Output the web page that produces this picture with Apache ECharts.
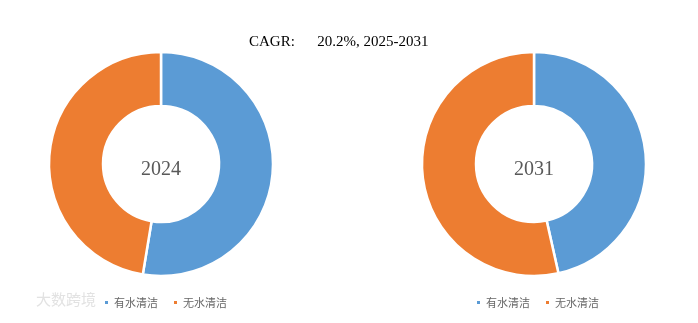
<!DOCTYPE html>
<html><head><meta charset="utf-8">
<script src="https://cdn.jsdelivr.net/npm/echarts@6/dist/echarts.min.js"></script>
<style>html,body{margin:0;padding:0;background:#fff}#c{width:698px;height:323px}</style>
</head><body><div id="c"></div>
<script>
const categories = ['有水清洁', '无水清洁'];
const years = ['2024', '2031'];
const share2024 = [52.6, 47.4];
const share2031 = [46.5, 53.5];
const titleText = 'CAGR:      20.2%, 2025-2031';
const watermark = '大数跨境';

const colors = ['#5B9BD5', '#ED7D31'];
const chart = echarts.init(document.getElementById('c'), null, {renderer: 'canvas'});

function pie(values, cx) {
  return {
    type: 'pie',
    center: [cx, 164],
    radius: [58, 112],
    startAngle: 90,
    clockwise: true,
    silent: true,
    label: {show: false},
    labelLine: {show: false},
    emphasis: {disabled: true},
    itemStyle: {borderColor: '#fff', borderWidth: 2.5},
    data: categories.map((n, i) => ({name: n, value: values[i], itemStyle: {color: colors[i]}}))
  };
}

const legendCommon = {
  orient: 'horizontal', icon: 'rect', itemWidth: 5, itemHeight: 5, itemGap: 14,
  textStyle: {fontFamily: 'Noto Sans CJK SC', fontSize: 11, color: '#666666'},
  selectedMode: false, data: categories
};

const yearStyle = {fontFamily: 'Liberation Serif', fontSize: 20, fontWeight: 'normal', color: '#595959'};

chart.setOption({
  animation: false,
  color: colors,
  title: [
    {text: titleText, left: 244, top: 30,
     textStyle: {fontFamily: 'Liberation Serif', fontSize: 15, fontWeight: 'normal', color: '#000'}},
    {text: years[0], left: 161, top: 170, textAlign: 'center', textVerticalAlign: 'middle', padding: 0, textStyle: yearStyle},
    {text: years[1], left: 534, top: 170, textAlign: 'center', textVerticalAlign: 'middle', padding: 0, textStyle: yearStyle}
  ],
  legend: [
    Object.assign({left: 98, top: 292}, legendCommon),
    Object.assign({left: 470, top: 292}, legendCommon)
  ],
  graphic: [{
    type: 'text', left: 36, top: 292,
    style: {text: watermark, fontFamily: 'Noto Sans CJK SC', fontSize: 15, fill: '#e2e2e2'}
  }],
  series: [pie(share2024, 161), pie(share2031, 534)]
});
</script></body></html>
